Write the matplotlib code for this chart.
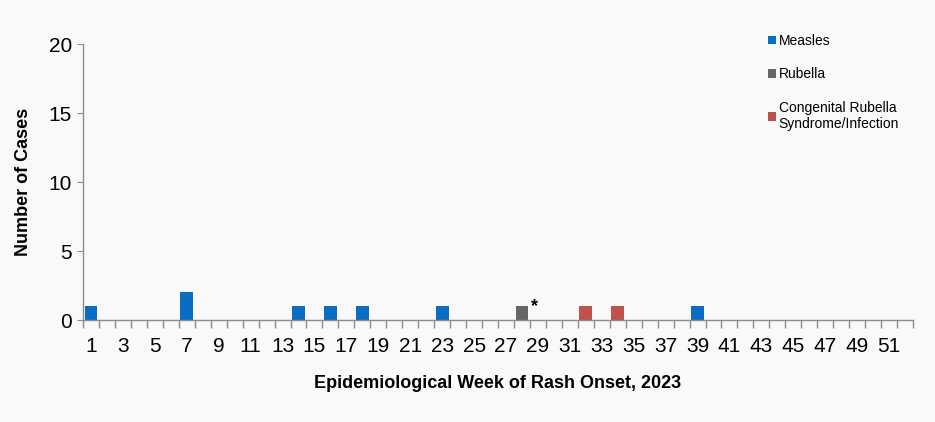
import numpy as np
import matplotlib.pyplot as plt

plt.rcParams['font.family'] = ['Liberation Sans', 'DejaVu Sans']

# epi weeks 1-52 of 2023 and the cases per week
weeks = np.arange(1, 53)
measles_weeks = [1, 7, 14, 16, 18, 23, 39]
measles_cases = [1, 2, 1, 1, 1, 1, 1]
rubella_weeks = [28]
rubella_cases = [1]
crs_weeks = [32, 34]
crs_cases = [1, 1]
tick_labels = [str(w) if w % 2 == 1 else '' for w in weeks]

measles = np.zeros(52)
rubella = np.zeros(52)
crs = np.zeros(52)
measles[np.array(measles_weeks) - 1] = measles_cases
rubella[np.array(rubella_weeks) - 1] = rubella_cases
crs[np.array(crs_weeks) - 1] = crs_cases

bg = '#f9f9f9'
fig = plt.figure(figsize=(9.35, 4.22), dpi=100, facecolor=bg)
ax = fig.add_axes([0.0888, 0.2417, 0.8877, 0.654], facecolor=bg)

ax.bar(weeks, measles, width=0.8, color='#0a6cc2', label='Measles')
ax.bar(weeks, rubella, width=0.8, color='#666666', label='Rubella')
ax.bar(weeks, crs, width=0.8, color='#c0504d', label='Congenital Rubella\nSyndrome/Infection')

# asterisk next to the rubella case
ax.text(28.8, 1.0, '*', fontsize=13, fontweight='bold', ha='center', va='center')

ax.set_xlim(0.5, 52.5)
ax.set_ylim(0, 20)
ax.set_yticks([0, 5, 10, 15, 20])
ax.set_xticks(weeks)
ax.set_xticklabels(tick_labels)
ax.set_xticks(np.arange(0.5, 53, 1), minor=True)
ax.tick_params(axis='x', which='major', length=0, labelsize=15, pad=12)
ax.tick_params(axis='x', which='minor', length=6, color='#8c8c8c', width=1)
ax.tick_params(axis='y', length=4, color='#8c8c8c', labelsize=15, pad=4)

for s in ['top', 'right']:
    ax.spines[s].set_visible(False)
for s in ['left', 'bottom']:
    ax.spines[s].set_color('#8c8c8c')
    ax.spines[s].set_linewidth(1)

ax.set_xlabel('Epidemiological Week of Rash Onset, 2023', fontsize=13, fontweight='bold', labelpad=14)
ax.set_ylabel('Number of Cases', fontsize=13, fontweight='bold', labelpad=12)

leg = ax.legend(loc='upper left', bbox_to_anchor=(0.815, 0.933), bbox_transform=fig.transFigure,
                frameon=False, fontsize=10, handlelength=0.6, handleheight=0.6,
                handletextpad=0.2, labelspacing=1.4, borderaxespad=0)

fig.savefig('out.png', dpi=100, facecolor=bg)
